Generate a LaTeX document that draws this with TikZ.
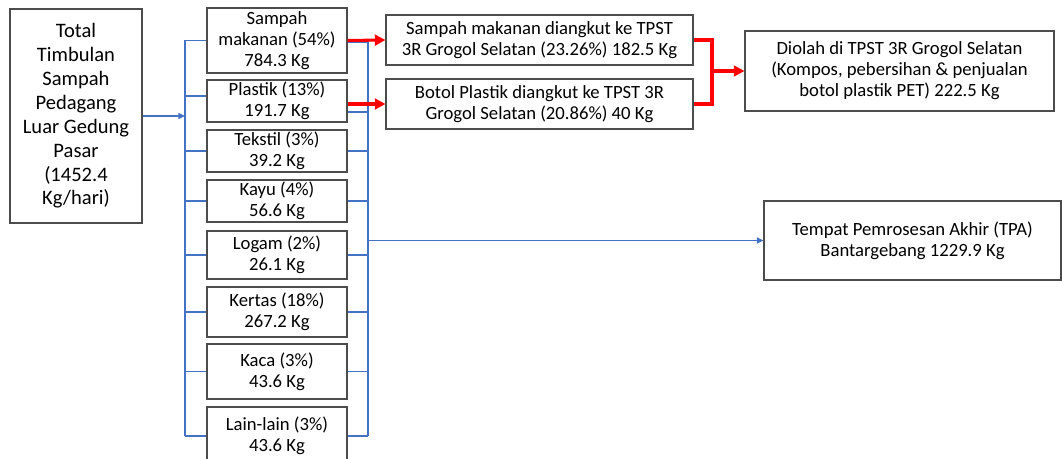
\documentclass[tikz,border=0pt]{standalone}
\usepackage{fontspec}
\setmainfont{Carlito}
\usetikzlibrary{arrows.meta,calc}
\definecolor{garisbiru}{HTML}{4472C4}
\def\px{0.75pt}
\tikzset{
kotak/.style={draw=black!70, line width=0.8pt, fill=white, align=center, inner sep=0pt, font=\fontsize{14}{15.8}\selectfont},
biru/.style={draw=garisbiru, line width=1.2pt},
merah/.style={draw=red, line width=2.3pt},
}

\begin{document}
\begin{tikzpicture}[x=0.75pt,y=-0.75pt]
\useasboundingbox (0,0) rectangle (1062,459);
\path
(76,116) node[kotak, minimum width=132*\px, minimum height=214*\px, font=\fontsize{15.4}{17.9}\selectfont] (total) {Total\\Timbulan\\Sampah\\Pedagang\\Luar Gedung\\Pasar\\(1452.4\\Kg/hari)}
(277,40.5) node[kotak, minimum width=140*\px, minimum height=65*\px] (makanan) {Sampah\\makanan (54\%)\\784.3 Kg}
(277,101) node[kotak, minimum width=140*\px, minimum height=42*\px] (plastik) {Plastik (13\%)\\191.7 Kg}
(277,151) node[kotak, minimum width=140*\px, minimum height=42*\px] (tekstil) {Tekstil (3\%)\\39.2 Kg}
(277,201) node[kotak, minimum width=140*\px, minimum height=42*\px] (kayu) {Kayu (4\%)\\56.6 Kg}
(277,255) node[kotak, minimum width=140*\px, minimum height=48*\px] (logam) {Logam (2\%)\\26.1 Kg}
(277,312) node[kotak, minimum width=140*\px, minimum height=50*\px] (kertas) {Kertas (18\%)\\267.2 Kg}
(277,371.5) node[kotak, minimum width=140*\px, minimum height=55*\px] (kaca) {Kaca (3\%)\\43.6 Kg}
(277,436) node[kotak, minimum width=140*\px, minimum height=58*\px] (lain) {Lain-lain (3\%)\\43.6 Kg}
(539.5,40) node[kotak, minimum width=307*\px, minimum height=50*\px] (sm3r) {Sampah makanan diangkut ke TPST\\3R Grogol Selatan (23.26\%) 182.5 Kg}
(539.5,104) node[kotak, minimum width=307*\px, minimum height=50*\px] (bp3r) {Botol Plastik diangkut ke TPST 3R\\Grogol Selatan (20.86\%) 40 Kg}
(899.5,71) node[kotak, minimum width=309*\px, minimum height=80*\px] (diolah) {Diolah di TPST 3R Grogol Selatan\\(Kompos, pebersihan \& penjualan\\botol plastik PET) 222.5 Kg}
(912.5,240.5) node[kotak, minimum width=297*\px, minimum height=79*\px] (tpa) {Tempat Pemrosesan Akhir (TPA)\\Bantargebang 1229.9 Kg}
(185,0) coordinate (kiri)
(368,0) coordinate (kanan)
(712,71) coordinate (gabung);
%\draw[biru] (kiri |- makanan.north) -- (kiri |- lain.south);
\draw[biru,-{Triangle[length=5pt,width=4.5pt]}] (total.east) -- (total.east -| kiri);
\draw[biru] (kiri |- makanan.west) -- (kiri |- lain.west);
\foreach \n in {makanan,tekstil,kayu,logam,kertas,kaca,lain}
  \draw[biru] (kiri |- \n.west) -- (\n.west);
\draw[biru] ($(kiri |- plastik.west)+(0,-5)$) -- ($(plastik.west)+(0,-5)$);
\draw[biru] ($(kanan |- makanan.east)+(0,1.5)$) -- ($(kanan |- lain.east)$);
\draw[biru] ($(makanan.east)+(0,1.5)$) -- ($(kanan |- makanan.east)+(0,1.5)$);
\draw[biru] ($(plastik.east)+(0,11)$) -- ($(kanan |- plastik.east)+(0,11)$);
\foreach \n in {tekstil,kayu,logam,kertas,kaca,lain}
  \draw[biru] (\n.east) -- (kanan |- \n.east);
\draw[biru,-{Triangle[length=5pt,width=4.5pt]}] (kanan |- tpa.west) -- (tpa.west);
%\draw[merah] (sm3r.east) -- (bp3r.east);
\draw[merah,-{Triangle[length=8pt,width=8pt]}] (makanan.east) -- (sm3r.west);
\draw[merah,-{Triangle[length=8pt,width=8pt]}] (plastik.east |- bp3r.west) -- (bp3r.west);
\draw[merah] (sm3r.east) -| (gabung) |- (bp3r.east);
\draw[merah,-{Triangle[length=8pt,width=8pt]}] (gabung) -- (gabung -| diolah.west);
\end{tikzpicture}
\end{document}
